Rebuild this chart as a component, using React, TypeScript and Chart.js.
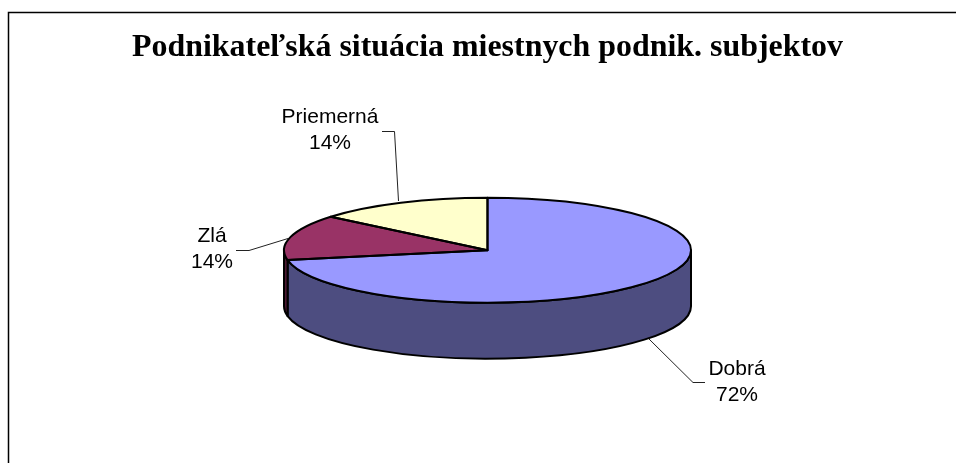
import React, { useEffect, useRef } from "react";
import { Chart, registerables } from "chart.js";

Chart.register(...registerables);

const titleText = "Podnikateľská situácia miestnych podnik. subjektov";
const categories = ["Dobrá", "Zlá", "Priemerná"];
const shares = [72, 14, 14];
const topColors = ["#9999FF", "#993366", "#FFFFCC"];
const sideColors = ["#4D4D80", "#4D1A33", "#808066"];

const RADIUS = 203.5;
const SQUASH = 52.5 / 203.5;
const DEPTH = 56;

const calloutLayout = [
  { x: 737, y: 369, line: [[705, 382.5], [693, 382.5], [649, 339]] },
  { x: 212, y: 236, line: [[236, 250.5], [249, 250.5], [288, 238.5]] },
  { x: 330, y: 117, line: [[382, 131.5], [394.5, 131.5], [398.5, 201]] },
];

const TAU = Math.PI * 2;

function frontRange(start: number, end: number): [number, number] | null {
  let s = start;
  let e = end;
  while (s < -Math.PI) {
    s += TAU;
    e += TAU;
  }
  const a = Math.max(s, 0);
  const b = Math.min(e, Math.PI);
  return b > a ? [a, b] : null;
}

const pie3d = {
  id: "pie3d",
  beforeDraw(chart: any) {
    const { ctx, width } = chart;
    ctx.save();
    ctx.fillStyle = "#fff";
    ctx.fillRect(0, 0, width, chart.height);
    ctx.strokeStyle = "#000";
    ctx.lineWidth = 1.5;
    ctx.beginPath();
    ctx.moveTo(8.5, chart.height);
    ctx.lineTo(8.5, 12.5);
    ctx.lineTo(width, 12.5);
    ctx.stroke();
    ctx.restore();
  },
  beforeDatasetsDraw(chart: any) {
    const { ctx } = chart;
    const arcs = chart.getDatasetMeta(0).data;
    const cx = arcs[0].x;
    const cy = arcs[0].y;
    const rx = arcs[0].outerRadius;
    const ry = rx * SQUASH;
    ctx.save();
    ctx.strokeStyle = "#000";
    ctx.lineWidth = 2;
    ctx.lineJoin = "round";
    arcs.forEach((arc: any, i: number) => {
      const range = frontRange(arc.startAngle, arc.endAngle);
      if (!range) return;
      ctx.beginPath();
      ctx.ellipse(cx, cy, rx, ry, 0, range[0], range[1]);
      ctx.ellipse(cx, cy + DEPTH, rx, ry, 0, range[1], range[0], true);
      ctx.closePath();
      ctx.fillStyle = sideColors[i];
      ctx.fill();
      ctx.stroke();
    });
    ctx.restore();
    ctx.save();
    ctx.translate(cx, cy);
    ctx.scale(1, SQUASH);
    ctx.translate(-cx, -cy);
  },
  afterDatasetsDraw(chart: any) {
    const { ctx } = chart;
    ctx.restore();
    const arcs = chart.getDatasetMeta(0).data;
    const cx = arcs[0].x;
    const cy = arcs[0].y;
    const rx = arcs[0].outerRadius;
    const ry = rx * SQUASH;
    ctx.save();
    ctx.strokeStyle = "#000";
    ctx.lineWidth = 2;
    ctx.lineJoin = "round";
    arcs.forEach((arc: any) => {
      ctx.beginPath();
      ctx.moveTo(cx, cy);
      ctx.ellipse(cx, cy, rx, ry, 0, arc.startAngle, arc.endAngle);
      ctx.closePath();
      ctx.stroke();
    });
    ctx.restore();

    ctx.save();
    ctx.font = '21px "Liberation Sans", Arial, sans-serif';
    ctx.textAlign = "center";
    ctx.textBaseline = "middle";
    ctx.fillStyle = "#000";
    const total = shares.reduce((a, b) => a + b, 0);
    categories.forEach((name, i) => {
      const c = calloutLayout[i];
      ctx.fillText(name, c.x, c.y);
      ctx.fillText(`${Math.round((shares[i] / total) * 100)}%`, c.x, c.y + 26.5);
      ctx.beginPath();
      ctx.strokeStyle = "#222";
      ctx.lineWidth = 1;
      c.line.forEach(([x, y], k) => (k ? ctx.lineTo(x, y) : ctx.moveTo(x, y)));
      ctx.stroke();
    });
    ctx.restore();
  },
};

export default function App() {
  const ref = useRef<HTMLCanvasElement>(null);
  useEffect(() => {
    const chart = new Chart(ref.current as HTMLCanvasElement, {
      type: "doughnut",
      data: {
        labels: categories,
        datasets: [
          {
            data: shares,
            backgroundColor: topColors,
            borderWidth: 0,
            clip: false,
          } as any,
        ],
      },
      options: {
        animation: false,
        responsive: false,
        devicePixelRatio: 1,
        events: [],
        cutout: 0,
        radius: RADIUS,
        layout: { padding: { left: 132, right: 113, top: 0, bottom: 30 } },
        plugins: {
          legend: { display: false },
          tooltip: { enabled: false },
          title: {
            display: true,
            text: titleText,
            align: "start",
            color: "#000",
            font: { family: '"Liberation Serif", "Times New Roman", serif', size: 32, weight: "bold", lineHeight: 1.2 },
            padding: { top: 29, bottom: 0 },
          },
        },
      } as any,
      plugins: [pie3d],
    });
    return () => chart.destroy();
  }, []);
  return (
    <canvas
      ref={ref}
      width={956}
      height={463}
      style={{ position: "absolute", left: 0, top: 0, display: "block", width: 956, height: 463 }}
    />
  );
}
